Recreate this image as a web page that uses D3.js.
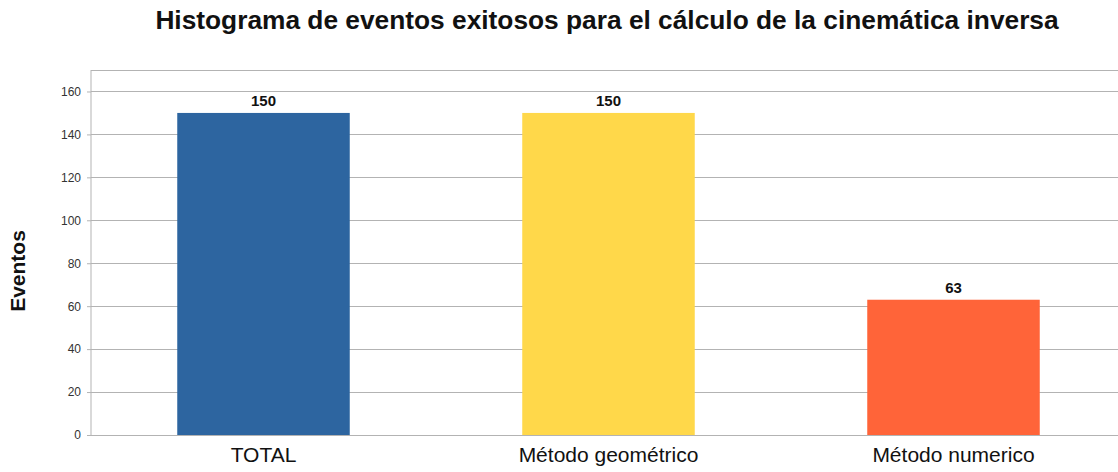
<!DOCTYPE html>
<html>
<head>
<meta charset="utf-8">
<script src="https://cdn.jsdelivr.net/npm/d3@7"></script>
<style>
  html, body { margin: 0; padding: 0; background: #fff; }
  svg { display: block; font-family: "Liberation Sans", Arial, sans-serif; }
</style>
</head>
<body>
<svg id="chart" width="1118" height="472"></svg>
<script>
// Successful inverse-kinematics events per method
const categories = ["TOTAL", "Método geométrico", "Método numerico"];
const values = [150, 150, 63];
const colors = ["#2d65a0", "#ffd84a", "#ff6439"];
const yTicks = [0, 20, 40, 60, 80, 100, 120, 140, 160];
const yMax = 170;

const svg = d3.select("#chart");
const margin = { top: 70, left: 91, bottom: 37, right: -8 };
const W = 1118, H = 472;
const innerW = W - margin.left - margin.right;
const innerH = H - margin.top - margin.bottom;

const g = svg.append("g").attr("transform", `translate(${margin.left},${margin.top})`);

const x = d3.scaleBand().domain(categories).range([0, innerW]).paddingInner(0.5).paddingOuter(0.25);
const y = d3.scaleLinear().domain([0, yMax]).range([innerH, 0]);

// horizontal grid
g.append("g")
  .selectAll("line")
  .data(yTicks.concat([yMax]))
  .join("line")
  .attr("x1", 0).attr("x2", innerW)
  .attr("y1", d => y(d)).attr("y2", d => y(d))
  .attr("stroke", "#b3b3b3").attr("stroke-width", 1)
  .attr("shape-rendering", "crispEdges");

// y axis
const yAxis = g.append("g")
  .call(d3.axisLeft(y).tickValues(yTicks).tickSize(4).tickPadding(6));
yAxis.select(".domain").attr("stroke", "#b3b3b3").attr("d", `M0,${innerH}V0`);
yAxis.selectAll(".tick line").attr("stroke", "#b3b3b3");
yAxis.selectAll(".tick text").attr("fill", "#333").style("font-size", "12px");

// bars
g.append("g")
  .selectAll("rect")
  .data(values)
  .join("rect")
  .attr("x", (d, i) => x(categories[i]))
  .attr("y", d => y(d))
  .attr("width", x.bandwidth())
  .attr("height", d => innerH - y(d))
  .attr("fill", (d, i) => colors[i]);

// value labels
g.append("g")
  .selectAll("text")
  .data(values)
  .join("text")
  .attr("x", (d, i) => x(categories[i]) + x.bandwidth() / 2)
  .attr("y", d => y(d) - 7)
  .attr("text-anchor", "middle")
  .attr("font-weight", "bold")
  .attr("font-size", "15px")
  .attr("fill", "#111")
  .text(d => d);

// x axis labels
const xAxis = g.append("g")
  .attr("transform", `translate(0,${innerH})`)
  .call(d3.axisBottom(x).tickSize(0).tickPadding(12));
xAxis.select(".domain").attr("stroke", "#b3b3b3");
xAxis.selectAll(".tick text").attr("fill", "#111").style("font-size", "21px");

// title
svg.append("text")
  .attr("x", 607).attr("y", 29)
  .attr("text-anchor", "middle")
  .attr("font-weight", "bold")
  .attr("font-size", "26.3px")
  .attr("fill", "#111")
  .text("Histograma de eventos exitosos para el cálculo de la cinemática inversa");

// y axis title
svg.append("text")
  .attr("transform", "translate(25,271) rotate(-90)")
  .attr("text-anchor", "middle")
  .attr("font-weight", "bold")
  .attr("font-size", "21px")
  .attr("fill", "#111")
  .text("Eventos");
</script>
</body>
</html>
